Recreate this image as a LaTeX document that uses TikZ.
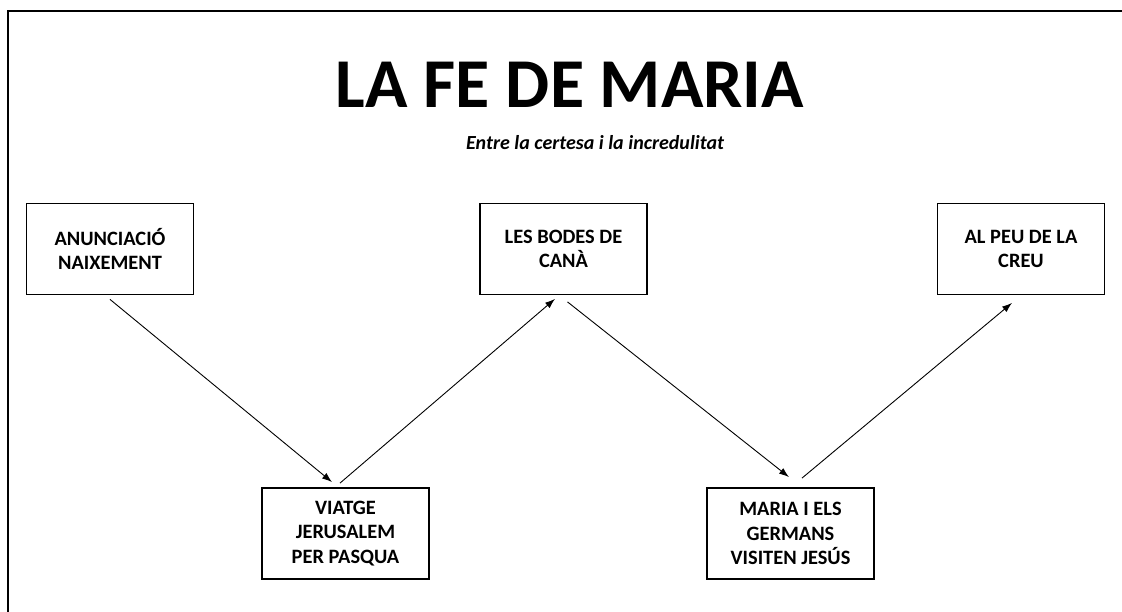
\documentclass[tikz,border=0pt]{standalone}
\usepackage{fontspec}
\setmainfont{Carlito}
\usetikzlibrary{calc,arrows.meta}
\begin{document}
\begin{tikzpicture}[x=1pt,y=-1pt,
  stepbox/.style={draw,line width=1.8pt,minimum width=167pt,minimum height=91pt,inner sep=0pt,
    align=center,font=\fontsize{20.4}{24.6}\selectfont\bfseries},
  conn/.style={-{Latex[length=10pt,width=7pt]},line width=0.9pt}]
\path[use as bounding box,fill=white] (0,0) rectangle (1122,612);
\fill[black] (7,10) rectangle (1122,12);
\fill[black] (7,10) rectangle (9,612);
\node[anchor=base,font=\fontsize{70}{84}\selectfont\bfseries] (title) at (570,108) {LA FE DE MARIA};
\node[anchor=base,font=\fontsize{20}{24}\selectfont\bfseries\itshape] (sub) at (595,150) {Entre la certesa i la incredulitat};
\node[stepbox] (n1) at (110,249) {ANUNCIACIÓ\\NAIXEMENT};
\node[stepbox] (n2) at (345.5,533.5) {VIATGE\\JERUSALEM\\PER PASQUA};
\node[stepbox] (n3) at (563.5,249) {LES BODES DE\\CANÀ};
\node[stepbox] (n4) at (790.5,533.5) {MARIA I ELS\\GERMANS\\VISITEN JESÚS};
\node[stepbox] (n5) at (1021,249) {AL PEU DE LA\\CREU};
\coordinate (a1s) at ($(n1.south)+(0,4)$);
\coordinate (a1e) at ($(n2.north)+(-13.5,-5)$);
\coordinate (a2s) at ($(n2.north)+(-5.5,-4)$);
\coordinate (a2e) at ($(n3.south)+(-8.5,3.5)$);
\coordinate (a3s) at ($(n3.south)+(4,6.5)$);
\coordinate (a3e) at ($(n4.north)+(-1.5,-10)$);
\coordinate (a4s) at ($(n4.north)+(11.5,-9)$);
\coordinate (a4e) at ($(n5.south)+(-9,7.5)$);
\draw[conn] (a1s) -- (a1e);
\draw[conn] (a2s) -- (a2e);
\draw[conn] (a3s) -- (a3e);
\draw[conn] (a4s) -- (a4e);
\end{tikzpicture}
\end{document}
